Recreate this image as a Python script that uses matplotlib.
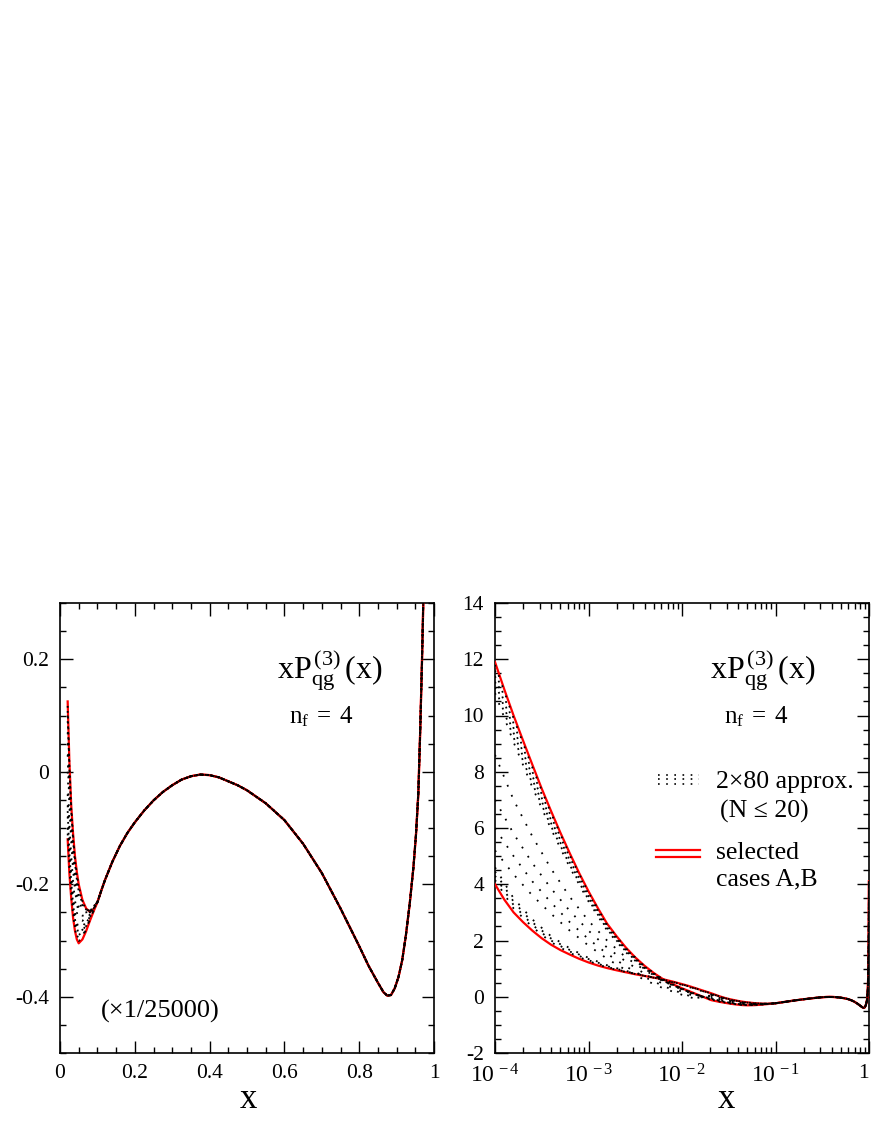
import numpy as np
import matplotlib
matplotlib.use("Agg")
import matplotlib.pyplot as plt
from matplotlib.ticker import MultipleLocator, FormatStrFormatter, FixedLocator, LogLocator, NullFormatter

plt.rcParams['font.family'] = ['Liberation Serif', 'DejaVu Serif']
plt.rcParams['mathtext.fontset'] = 'custom'
plt.rcParams['mathtext.rm'] = 'Liberation Serif'
plt.rcParams['mathtext.it'] = 'Liberation Serif:italic'
plt.rcParams['axes.unicode_minus'] = False

# --- data (values x 1/25000) ---
# selected cases A and B at small x (only seen in the log panel)
x_sel_lo = [1e-4, 1.26e-4, 1.58e-4, 2.0e-4, 2.51e-4, 3.16e-4, 3.98e-4, 5.01e-4, 6.31e-4, 7.94e-4,
            1e-3, 1.26e-3, 1.58e-3, 2.0e-3, 2.51e-3, 3.16e-3, 3.98e-3, 5.01e-3, 6.31e-3, 7.94e-3,
            1e-2, 1.19e-2, 1.41e-2]
A_lo = [11.9, 10.92, 10.0, 9.1, 8.25, 7.4, 6.6, 5.83, 5.1, 4.4, 3.75, 3.15, 2.6, 2.15, 1.75,
        1.4, 1.1, 0.84, 0.62, 0.45, 0.3, 0.2, 0.1]
B_lo = [4.0, 3.45, 3.0, 2.65, 2.35, 2.08, 1.85, 1.66, 1.5, 1.35, 1.22, 1.11, 1.02, 0.94, 0.87,
        0.8, 0.74, 0.68, 0.62, 0.54, 0.45, 0.38, 0.3]

# region where the two selected cases split in the linear panel
x_mid = [0.0205, 0.025, 0.03, 0.035, 0.04, 0.045, 0.05, 0.06, 0.07, 0.08, 0.09]
A_mid = [-0.12, -0.18, -0.225, -0.26, -0.283, -0.298, -0.305, -0.298, -0.283, -0.265, -0.248]
B_mid = [0.125, 0.02, -0.06, -0.11, -0.15, -0.178, -0.2, -0.228, -0.243, -0.249, -0.244]

# common large-x part
x_hi = [0.1, 0.11, 0.12, 0.14, 0.16, 0.18, 0.2, 0.225, 0.25, 0.275, 0.3, 0.325, 0.35, 0.375,
        0.4, 0.425, 0.45, 0.475, 0.5, 0.55, 0.6, 0.65, 0.7, 0.75, 0.8, 0.825, 0.85, 0.865,
        0.875, 0.885, 0.895, 0.905, 0.915, 0.925, 0.935, 0.945, 0.952, 0.958, 0.963, 0.968,
        0.972, 0.98, 0.985, 0.99, 0.995, 0.999]
main_hi = [-0.232, -0.212, -0.193, -0.16, -0.132, -0.109, -0.09, -0.069, -0.051, -0.036, -0.024,
           -0.014, -0.008, -0.005, -0.006, -0.01, -0.017, -0.024, -0.033, -0.056, -0.086, -0.128,
           -0.18, -0.243, -0.31, -0.345, -0.375, -0.392, -0.398, -0.397, -0.385, -0.365, -0.335,
           -0.29, -0.235, -0.17, -0.11, -0.04, 0.07, 0.2, 0.32, 0.7, 1.1, 1.7, 2.7, 4.1]

# some of the 2x80 approximations (dotted), small-x grid and split region
x_apx_lo = [1e-4, 1.58e-4, 2.51e-4, 3.98e-4, 6.31e-4, 1e-3, 1.58e-3, 2.51e-3, 3.98e-3, 6.31e-3,
            1e-2, 1.41e-2]
approx_lo = [
    [11.8, 9.9, 8.15, 6.52, 5.03, 3.7, 2.56, 1.72, 1.08, 0.61, 0.29, 0.09],
    [11.6, 9.72, 8.0, 6.4, 4.95, 3.64, 2.52, 1.69, 1.06, 0.6, 0.29, 0.09],
    [11.4, 9.55, 7.85, 6.28, 4.85, 3.57, 2.48, 1.66, 1.04, 0.58, 0.28, 0.08],
    [11.2, 9.38, 7.72, 6.17, 4.77, 3.51, 2.44, 1.63, 1.02, 0.57, 0.27, 0.07],
    [11.0, 9.22, 7.58, 6.06, 4.68, 3.45, 2.4, 1.61, 1.0, 0.56, 0.27, 0.07],
    [10.8, 9.05, 7.45, 5.96, 4.6, 3.39, 2.36, 1.58, 0.98, 0.54, 0.26, 0.06],
    [8.6, 7.0, 5.7, 4.55, 3.55, 2.7, 2.0, 1.4, 0.95, 0.55, 0.25, 0.05],
    [7.0, 5.8, 4.75, 3.85, 3.05, 2.35, 1.75, 1.25, 0.82, 0.45, 0.18, 0.0],
    [6.0, 5.0, 4.1, 3.35, 2.65, 2.05, 1.53, 1.08, 0.7, 0.38, 0.12, -0.05],
    [5.2, 4.35, 3.6, 2.95, 2.35, 1.82, 1.35, 0.95, 0.6, 0.3, 0.07, -0.08],
    [4.6, 3.5, 2.75, 2.15, 1.72, 1.38, 1.12, 0.92, 0.76, 0.6, 0.42, 0.27],
    [4.45, 3.38, 2.65, 2.07, 1.66, 1.34, 1.09, 0.9, 0.75, 0.6, 0.43, 0.28],
    [4.3, 3.26, 2.56, 2.0, 1.61, 1.3, 1.06, 0.89, 0.74, 0.61, 0.44, 0.29],
    [4.15, 3.14, 2.48, 1.94, 1.56, 1.27, 1.04, 0.88, 0.74, 0.61, 0.44, 0.29],
]
approx_mid = [
    [-0.11, -0.172, -0.22, -0.255, -0.279, -0.294, -0.301, -0.295, -0.28, -0.263, -0.247],
    [-0.10, -0.165, -0.215, -0.25, -0.275, -0.29, -0.297, -0.292, -0.278, -0.262, -0.246],
    [-0.08, -0.15, -0.2, -0.24, -0.266, -0.282, -0.29, -0.286, -0.274, -0.259, -0.244],
    [-0.07, -0.142, -0.195, -0.235, -0.262, -0.278, -0.287, -0.283, -0.272, -0.257, -0.243],
    [-0.06, -0.135, -0.19, -0.23, -0.258, -0.275, -0.284, -0.281, -0.27, -0.256, -0.242],
    [-0.04, -0.12, -0.18, -0.22, -0.25, -0.268, -0.278, -0.276, -0.266, -0.253, -0.24],
    [0.0, -0.09, -0.15, -0.195, -0.228, -0.25, -0.262, -0.265, -0.259, -0.25, -0.24],
    [0.03, -0.06, -0.125, -0.175, -0.21, -0.235, -0.25, -0.256, -0.254, -0.248, -0.239],
    [0.05, -0.04, -0.105, -0.155, -0.195, -0.222, -0.24, -0.25, -0.25, -0.246, -0.239],
    [0.07, -0.02, -0.09, -0.14, -0.18, -0.21, -0.23, -0.244, -0.248, -0.246, -0.239],
    [0.09, 0.0, -0.075, -0.128, -0.168, -0.197, -0.218, -0.237, -0.246, -0.248, -0.242],
    [0.1, 0.007, -0.07, -0.123, -0.163, -0.192, -0.213, -0.235, -0.245, -0.248, -0.243],
    [0.108, 0.012, -0.066, -0.119, -0.158, -0.186, -0.208, -0.232, -0.245, -0.249, -0.243],
    [0.117, 0.016, -0.063, -0.114, -0.154, -0.182, -0.204, -0.23, -0.244, -0.249, -0.244],
]

xA = np.array(x_sel_lo + x_mid + x_hi)
yA = np.array(A_lo + A_mid + main_hi)
yB = np.array(B_lo + B_mid + main_hi)
n_sel = len(x_sel_lo)
xP = np.array(x_apx_lo + x_mid + x_hi)
n_apx = len(x_apx_lo)

red = '#ff0000'
dot = (0, (1, 5))

fig = plt.figure(figsize=(8.72, 11.28), dpi=100)
axL = fig.add_axes([60/872, 75/1128, 374/872, 450/1128])
axR = fig.add_axes([495/872, 75/1128, 374/872, 450/1128])

def style(ax):
    ax.tick_params(which='both', direction='in', top=True, right=True, labelsize=15.5, pad=8)
    ax.tick_params(which='major', length=9, width=1)
    ax.tick_params(which='minor', length=4.5, width=1)
    for s in ax.spines.values():
        s.set_linewidth(1.2)

title = r'$\mathregular{xP_{qg}^{\,(3)}\,(x)}$'
nf = r'$\mathregular{n_f\;=\;4}$'

# left: linear x
for ap_lo, ap_mid in zip(approx_lo, approx_mid):
    y = np.array(ap_lo + ap_mid + main_hi)
    axL.plot(xP[n_apx:], y[n_apx:], color='k', lw=1.3, ls=dot, zorder=4)
axL.plot(xA[n_sel:], yA[n_sel:], color=red, lw=1.6, zorder=3)
axL.plot(xA[n_sel:], yB[n_sel:], color=red, lw=1.6, zorder=3)
axL.set_xlim(0, 1)
axL.set_ylim(-0.5, 0.3)
axL.xaxis.set_major_locator(MultipleLocator(0.2))
axL.xaxis.set_minor_locator(MultipleLocator(0.05))
axL.yaxis.set_major_locator(MultipleLocator(0.2))
axL.yaxis.set_minor_locator(MultipleLocator(0.05))
axL.xaxis.set_major_formatter(FormatStrFormatter('%g'))
axL.yaxis.set_major_formatter(FormatStrFormatter('%g'))
style(axL)
axL.text(0.72, 0.85, title, transform=axL.transAxes, ha='center', va='center', fontsize=23)
axL.text(0.70, 0.747, nf, transform=axL.transAxes, ha='center', va='center', fontsize=18)
axL.text(0.267, 0.093, '(\u00d71/25000)', transform=axL.transAxes,
         ha='center', va='center', fontsize=19)
axL.text(0.503, -0.104, 'x', transform=axL.transAxes, ha='center', va='center', fontsize=25)

# right: log x
for ap_lo, ap_mid in zip(approx_lo, approx_mid):
    y = np.array(ap_lo + ap_mid + main_hi)
    axR.plot(xP, y, color='k', lw=1.3, ls=dot, zorder=4)
axR.plot(xA, yA, color=red, lw=1.6, zorder=3)
axR.plot(xA, yB, color=red, lw=1.6, zorder=3)
axR.set_xscale('log')
axR.set_xlim(1e-4, 1)
axR.set_ylim(-2, 14)
axR.xaxis.set_major_locator(FixedLocator([1e-4, 1e-3, 1e-2, 1e-1, 1]))
axR.set_xticklabels([r'$\mathregular{10^{\,-4}}$', r'$\mathregular{10^{\,-3}}$',
                     r'$\mathregular{10^{\,-2}}$', r'$\mathregular{10^{\,-1}}$', '1'])
axR.xaxis.set_minor_locator(LogLocator(base=10, subs=np.arange(2, 10)))
axR.xaxis.set_minor_formatter(NullFormatter())
axR.yaxis.set_major_locator(MultipleLocator(2))
axR.yaxis.set_minor_locator(MultipleLocator(0.5))
axR.yaxis.set_major_formatter(FormatStrFormatter('%g'))
style(axR)
axR.tick_params(axis='x', which='major', labelsize=17)
last = axR.get_xticklabels()[-1]
last.set_fontsize(15.5)
last.set_horizontalalignment('right')
axR.text(0.717, 0.851, title, transform=axR.transAxes, ha='center', va='center', fontsize=23)
axR.text(0.698, 0.747, nf, transform=axR.transAxes, ha='center', va='center', fontsize=18)
axR.text(0.62, -0.104, 'x', transform=axR.transAxes, ha='center', va='center', fontsize=25)

# legend drawn by hand
for yy in (0.618, 0.608, 0.598):
    axR.plot([0.436, 0.545], [yy, yy], transform=axR.transAxes, color='k', lw=1.2, ls=(0, (1, 3.9)))
axR.text(0.591, 0.602, '2\u00d780 approx.', transform=axR.transAxes, ha='left', va='center', fontsize=18.5)
axR.text(0.602, 0.536, '(N \u2264 20)', transform=axR.transAxes, ha='left', va='center', fontsize=18.5)
for yy in (0.452, 0.436):
    axR.plot([0.43, 0.548], [yy, yy], transform=axR.transAxes, color=red, lw=1.6)
axR.text(0.591, 0.444, 'selected', transform=axR.transAxes, ha='left', va='center', fontsize=18.5)
axR.text(0.591, 0.386, 'cases A,B', transform=axR.transAxes, ha='left', va='center', fontsize=18.5)

fig.savefig('out.png', dpi=100)
